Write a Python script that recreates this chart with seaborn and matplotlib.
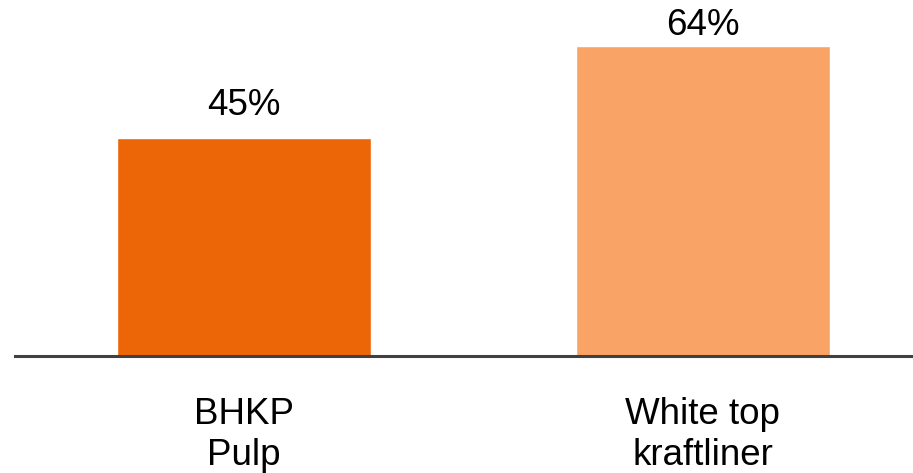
import pandas as pd
import numpy as np
import matplotlib.pyplot as plt
import seaborn as sns

# дані
categories = ['BHKP\nPulp', 'White top\nkraftliner']
values = [45, 64]
bar_colors = ['#EC6608', '#F9A366']
label_offsets = [11, 2.5]  # відступ підписів над стовпцями, pt

df = pd.DataFrame({'cat': categories, 'val': values})

sns.set_style('white')
plt.rcParams['font.family'] = ['Liberation Sans', 'DejaVu Sans']

fig = plt.figure(figsize=(9.13, 4.73), dpi=100)
ax = fig.add_axes([15 / 913, 1 - 356 / 473, 898 / 913, 356 / 473])

sns.barplot(data=df, x='cat', y='val', hue='cat', palette=bar_colors,
            width=0.554, legend=False, ax=ax, saturation=1)

ax.set_xlim(-0.4995, 1.459)
ax.set_ylim(0, 73.5)

# підписи значень
for i, v in enumerate(values):
    ax.annotate(f'{v}%', (i, v), xytext=(0, label_offsets[i]),
                textcoords='offset points',
                ha='center', va='bottom', fontsize=26.5, color='black')

for s in ['top', 'right', 'left']:
    ax.spines[s].set_visible(False)
ax.spines['bottom'].set_color('#404040')
ax.spines['bottom'].set_linewidth(2.2)

ax.set_yticks([])
ax.set_xlabel('')
ax.set_ylabel('')
ax.tick_params(axis='x', length=0, pad=29.5, labelsize=26.5, labelcolor='black')
for lbl in ax.get_xticklabels():
    lbl.set_linespacing(1.22)

fig.savefig('out.png', dpi=100)
